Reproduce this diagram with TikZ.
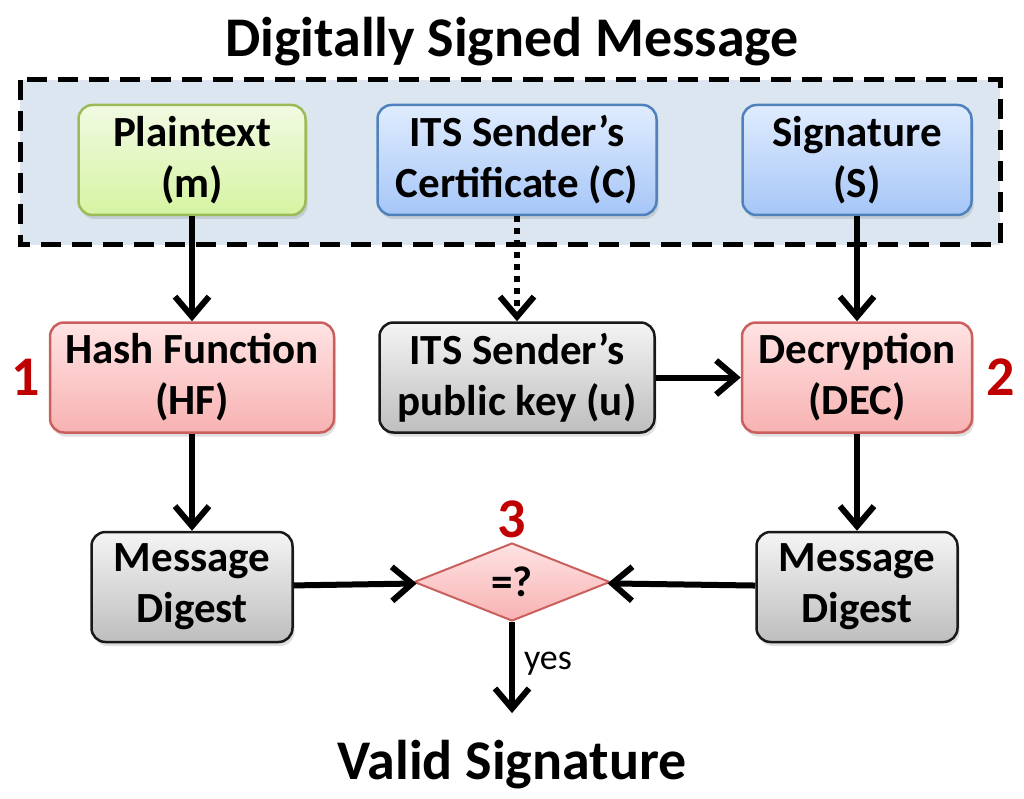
\documentclass[tikz,border=0pt]{standalone}
\usepackage{fontspec}
\setmainfont{Carlito}
\usepackage{tikz}
\usetikzlibrary{arrows.meta,positioning,shapes.geometric,shadows}
\definecolor{dsframe}{HTML}{DCE6F1}
\definecolor{dsgreentop}{HTML}{F1FAE2}
\definecolor{dsgreenbot}{HTML}{D5F4A2}
\definecolor{dsgreenline}{HTML}{9BBB59}
\definecolor{dsbluetop}{HTML}{E0ECFE}
\definecolor{dsbluebot}{HTML}{A6C6F7}
\definecolor{dsblueline}{HTML}{4F81BD}
\definecolor{dsredtop}{HTML}{FFE3E3}
\definecolor{dsredbot}{HTML}{F8B2B2}
\definecolor{dsredline}{HTML}{C9605D}
\definecolor{dsgreytop}{HTML}{F4F4F4}
\definecolor{dsgreybot}{HTML}{BEBEBE}
\definecolor{dsnum}{HTML}{C00000}
\newcommand{\dsbox}{\fontsize{43}{51}\selectfont\bfseries}
\newcommand{\dsbig}{\fontsize{56}{60}\selectfont\bfseries}

\begin{document}
\begin{tikzpicture}[x=1pt, y=-1pt,
  box/.style={rounded corners=14pt, line width=2.5pt, align=center,
    minimum height=110pt, inner sep=0pt, font=\dsbox,
    drop shadow={opacity=0.25, shadow xshift=2pt, shadow yshift=-4pt}},
  greenbox/.style={box, draw=dsgreenline, top color=dsgreentop, bottom color=dsgreenbot},
  bluebox/.style={box, draw=dsblueline, top color=dsbluetop, bottom color=dsbluebot},
  redbox/.style={box, draw=dsredline, top color=dsredtop, bottom color=dsredbot},
  greybox/.style={box, draw=black!90, top color=dsgreytop, bottom color=dsgreybot},
  cmp/.style={diamond, aspect=2.5, minimum width=196pt, minimum height=78pt,
    inner sep=0pt, draw=dsredline, line width=2pt, top color=dsredtop,
    bottom color=dsredbot, font=\dsbox},
  num/.style={font=\dsbig, text=dsnum, inner sep=0pt},
  big/.style={font=\dsbig},
  yes/.style={font=\fontsize{36}{40}\selectfont, inner sep=0pt},
  frame/.style={draw=black, line width=5pt, dash pattern=on 20pt off 11pt, fill=dsframe},
  arr/.style={-{Straight Barb[length=20pt, width=34pt]}, line width=6pt},
  dotarr/.style={arr, dash pattern=on 6pt off 6pt}]
\useasboundingbox (0,0) rectangle (1024,799);
\node[big] (head) at (512,42) {Digitally Signed Message};
\draw[frame] (20,80) rectangle (1000,245);
\node[greenbox, minimum width=227pt] (plain) at (192,160) {Plaintext\\(m)};
\node[bluebox, minimum width=279pt] (cert) at (517,160) {ITS Sender’s\\Certificate (C)};
\node[bluebox, minimum width=229pt] (sig) at (857,160) {Signature\\(S)};
\node[redbox, minimum width=284pt, below=105pt of plain] (hash) {Hash Function\\(HF)};
\node[greybox, minimum width=275pt, below=105pt of cert] (pkey) {ITS Sender’s\\public key (u)};
\node[redbox, minimum width=230pt, below=105pt of sig] (dec) {Decryption\\(DEC)};
\node[greybox, minimum width=201pt, below=97pt of hash] (digl) {Message\\Digest};
\node[greybox, minimum width=201pt, below=97pt of dec] (digr) {Message\\Digest};
\node[cmp] (eq) at (512,582) {=?};
\node[num, left=9pt of hash] (one) {1};
\node[num, right=13pt of dec] (two) {2};
\node[num, above=4pt of eq] (three) {3};
\node[big] (valid) at (512,765) {Valid Signature};
% top row down to the blocks
\draw[arr] (plain) -- (hash);
\draw[dotarr] (cert) -- (pkey);
\draw[arr] (sig) -- (dec);
\draw[arr] (pkey) -- (dec);
% digests and comparison
\draw[arr] (hash) -- (digl);
\draw[arr] (dec) -- (digr);
\draw[arr] (digl) -- (eq);
\draw[arr] (digr) -- (eq);
\draw[arr, shorten >=24pt] (eq) -- node[yes, right=9pt, pos=0.36] (yes) {yes} (valid);
\end{tikzpicture}
\end{document}
